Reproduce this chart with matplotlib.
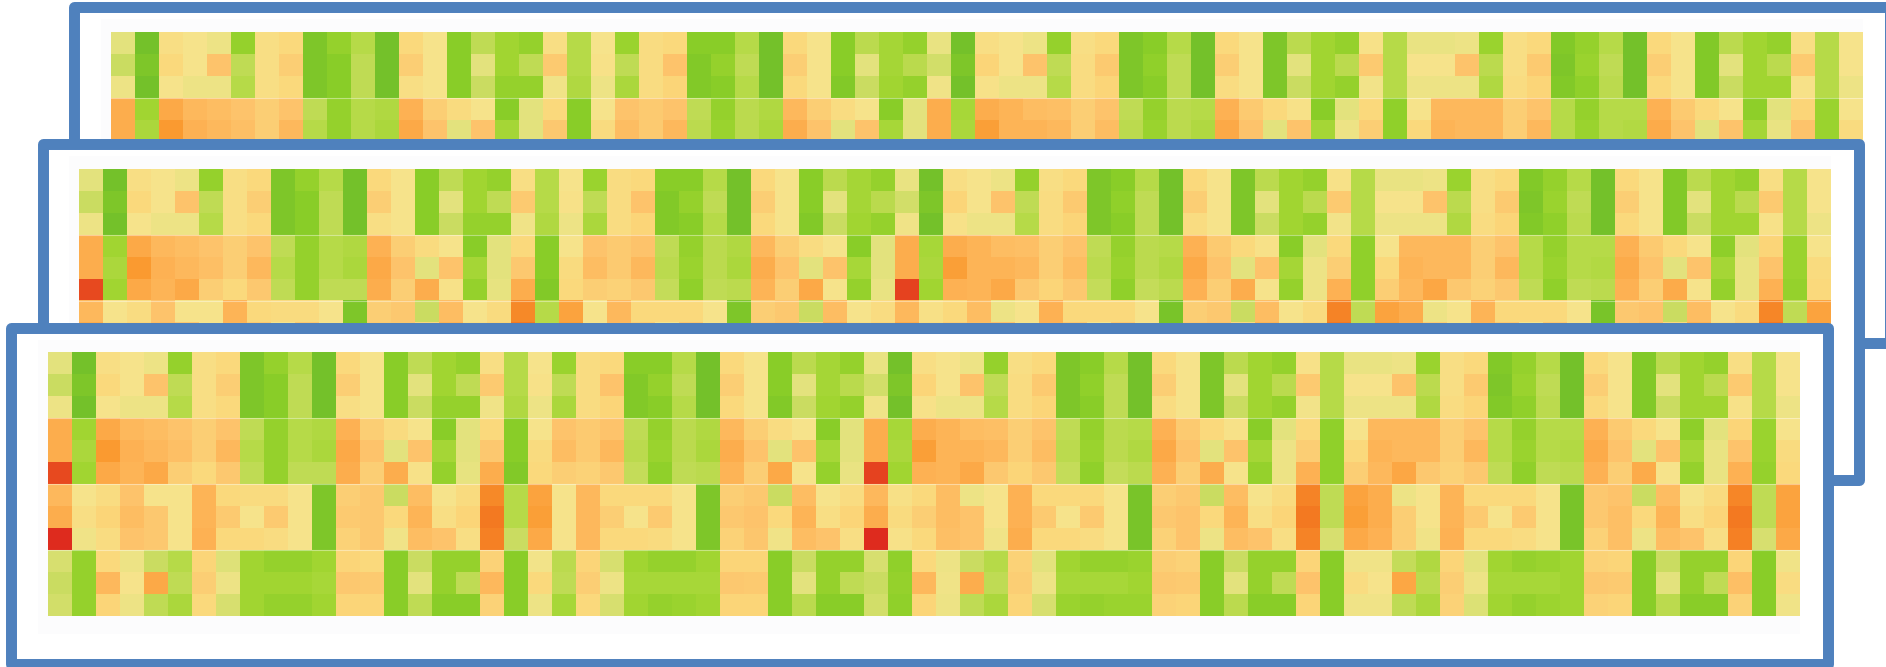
import numpy as np
import matplotlib
matplotlib.use("Agg")
import matplotlib.pyplot as plt
from matplotlib.colors import LinearSegmentedColormap
from matplotlib.patches import Rectangle

# the same 12 x 73 matrix sits in all three frames
# values are colour levels: 0 = red, 13 = dark green
row_01 = [8,13,6.5,7,7.5,11.5,6.5,6,12.5,11.5,10,13,6,7,12,9.5,11,11.5,
          6.5,10,7,11.3,6.3,6,12,12,10,13,6,7,12,9.7,10.8,11.5,7.7,13,6.5,
          7,7.5,11.5,6.5,6,12.5,12,10,13,6,7,12.5,9.7,11,11.5,6.8,10,7.7,7.7,7.5,
          11.3,6.5,6,12.3,11.5,10,13,6,7,12.3,9.7,11,11.5,6.5,10,7]
row_02 = [9,12.5,6,7,5,9.5,6.5,5.5,12.5,12,9.5,13,5.5,7,12,8,11,9.5,
          5.3,10,6.8,9.5,6.3,5,12.3,11.5,9.5,13,5.5,7,12,8,10.8,9.8,8.7,12.5,5.8,
          7,5,9.5,6.3,5.3,12.5,11.7,9.5,13,5.5,7,12.5,8,11,9.7,5.3,10,7,7,5,
          9.7,6.5,5.3,12.5,11.3,9.5,13,5.5,7,12.3,8,11,9.7,5.3,10,7]
row_03 = [7.5,13,7,7.5,7.5,10,6.5,6,12.5,12,9.5,13,6.5,7,12,9,11.5,11.5,
          7.3,10.3,7.5,10.5,6.3,5.8,12.3,12,10,13,6,7,12.3,9,11,11.5,7.3,13,6.8,
          7.5,7.5,10,6.3,5.8,12.5,12,9.5,13,6.3,7,12.5,9,11,11.5,7.2,10,7.5,7.5,7.5,
          10.3,6.3,5.8,12.3,11.7,9.7,13,6,7,12.3,9,11,11,6.8,10,7.5]
row_04 = [4,11,3.8,4.5,4.7,5,5.5,5,9.5,11.5,10,10.3,4.2,5.5,6.2,7,12,8,
          6,12,7,5,5.3,5,9.5,11.5,9.7,10.3,4.5,5.5,6.3,7,12,8,4,10.7,4,
          4.3,4.7,4.8,5.5,5,9.5,11.5,9.7,10,4.2,5.3,6,6.8,12,8,6,11.7,7,4.5,4.5,
          4.5,5.5,5,10,11.5,10,10,4.2,5.3,6,7,11.8,8,5.8,11.3,7]
row_05 = [4,10.5,3,4.2,4.5,4.8,5.5,4.5,10,11.5,10,10.5,3.8,5,8,5,10.8,8,
          5.2,12,6.2,4.7,5.3,4.5,9.7,11.3,9.7,10.5,4,5,8,5,10.7,8,4,10.5,3.3,
          4.3,4.3,4.5,5.5,4.7,9.7,11.3,9.7,10.3,3.8,5,8,5,10.8,7.5,5.5,11.7,6,4.3,4.5,
          4.5,5.5,4.5,10,11.3,10,10.2,3.9,5,8,5,10.8,7.7,5,11.3,6.2]
row_06 = [1,11,3.8,4.3,3.8,5.5,6,5.2,9.5,11.5,9.5,9.5,4,5.5,4,6.8,11.5,7.8,
          4,12.3,6,5.5,5.7,5.2,9.3,11.7,9.5,9.7,4.3,5.5,3.8,7,11.5,7.7,0.8,11,4.2,
          4.3,3.8,5.2,5.8,5.2,9.3,11.7,9.3,9.7,4.2,5.5,4,7,11.5,7.5,4.2,11.7,5.5,4.5,3.7,
          5.2,5.7,5.2,9.5,11.7,9.5,9.7,4.2,5.5,3.9,7,11.5,7.7,4.2,11.5,6]
row_07 = [4.5,7,6.3,5,7,7,4.3,6,6.2,6.2,7,12.5,5.5,5.2,9,4.7,7,6.2,
          2.5,10,3.5,7,4.5,6,6,6,7,12.5,5.5,5.2,9,4.7,7,6.3,4.5,6.7,6,
          4.7,7.5,7,4.2,6,6,6,7,12.7,5.5,5.2,9,4.7,7,6.2,2.3,9.5,3.5,4,7.5,
          7,4.3,6,6,6,7,12.7,5.2,5,9,4.7,7,6.2,2.4,9.5,3.5]
row_08 = [4,6.5,5.8,4.7,5.2,7,4.3,5.3,7,5.3,7,12.5,5.3,5.2,6,4.3,6.5,5.8,
          2,10,3.3,7,4.5,5.5,7,5.3,7,12.5,5.2,5,6,4.3,6.5,5.8,4,6.2,5.5,
          4.7,5,7,4.2,5.3,7,5.3,7,12.7,5.2,5,6,4.3,6.5,5.8,2,9.5,3.3,4,5.5,
          7,4.3,5.3,7,5.3,7,12.7,5.2,4.8,6,4.3,6.5,5.8,2,9.5,3.5]
row_09 = [0,7.3,6.3,5,5.2,7,4.2,6,6,6.3,7,12.5,5.7,5.2,7.3,4.7,5,6.5,
          2.2,9,3.8,7,4.5,6,6,6.2,7,12.5,5.7,5.1,7.3,4.7,5,6.5,0,6.8,6,
          4.8,5,7.3,4,6,6,6.3,7,12.7,5.7,5,7.5,4.7,5,6.5,2.3,8.5,3.8,4.2,5.5,
          7.3,4.2,6,6,6.3,7,12.7,5.7,4.8,7.5,4.7,5,6.5,2.2,8.5,3.8]
row_10 = [8.5,11.5,6,7.5,9,10,5.8,8.2,11,11.5,11.5,11,5.8,6,12,9,11.5,11.5,
          5.7,12,7.2,9.7,5.8,8.5,11,11.5,11.5,11,5.8,5.8,12,9,11.5,11.5,8.5,11.7,6,
          7.5,9,10,5.7,8,11,11.5,11.5,11.3,5.5,5.7,12,9,11.5,11.5,5.8,12,7.3,7.3,9.3,
          10.3,5.8,8,11,11.5,11.3,11,5.7,5.8,12,9,11.5,11.5,5.8,12,7.3]
row_11 = [9,11.5,4.5,7,3.8,9.5,5.5,7.5,11,11,11,10.7,5.2,5.3,12,8,11.5,9.5,
          4.5,12,6,9.5,5.5,7.5,10.7,10.7,10.7,10.7,5.2,5.3,12,8,11.5,9.5,9,11.5,4.5,
          7.3,4,9.5,5.5,7.5,10.7,10.7,10.7,11,5.2,5.3,12,8,11.5,9.5,5,12,6.3,7,3.7,
          9.7,5.5,7.5,10.7,10.7,10.7,11,5.2,5.3,12,8,11.5,9.5,4.8,12,6.3]
row_12 = [8.7,11.5,5.8,7.5,9.5,10.5,6,8.5,11,11.5,11.5,11,5.8,5.8,12,9.5,12,12,
          5.7,12,7.5,10.7,6,8.5,11,11.5,11.3,11,5.8,5.8,12,9.7,12,12,8.7,11.7,5.8,
          7.5,9.5,10.5,5.8,8.5,11.3,11.5,11.3,11.3,5.7,5.8,12,9.7,12,12,5.8,12,7.3,7.3,9.5,
          10.5,5.7,8.3,11,11.5,11.2,11,5.7,5.8,12,9.7,12,12,5.7,12,7.3]

level_colors = ["#DE2B1E", "#E84A20", "#F47A22", "#FA9A30", "#FDAE4E", "#FDC46C", "#FBD97C",
                "#F6E48C", "#E4E37E", "#CBDD62", "#B6DA48", "#A2D632", "#8ACE28", "#74C12A"]
cmap = LinearSegmentedColormap.from_list("levels", level_colors)

matrix = np.array([row_01, row_02, row_03, row_04, row_05, row_06,
                   row_07, row_08, row_09, row_10, row_11, row_12])

FRAME = "#4F81BD"
PANEL_W = 1752
PANEL_H = 263


def panel(ax, box, x0, y0, z):
    # white frame first, then the heatmap inside it. later panels cover earlier ones
    left, top, right, bottom = box
    ax.add_patch(Rectangle((left, top), right - left, bottom - top, facecolor="white",
                           edgecolor=FRAME, linewidth=7.9, joinstyle="round", zorder=z))
    ax.add_patch(Rectangle((x0 - 10, y0 - 13), PANEL_W + 10, PANEL_H + 31, facecolor="#FCFCFD",
                           edgecolor="none", zorder=z + 0.1))
    ax.imshow(matrix, cmap=cmap, vmin=0, vmax=13, aspect="auto", interpolation="nearest",
              extent=(x0, x0 + PANEL_W, y0 + PANEL_H, y0), zorder=z + 0.2)
    # faint light seam between the four row groups
    for k in [1, 2, 3]:
        ax.plot([x0, x0 + PANEL_W], [y0 + PANEL_H * k / 4] * 2, color="white", alpha=0.4,
                linewidth=0.8, zorder=z + 0.3)


fig = plt.figure(figsize=(18.86, 6.67), dpi=100)
ax = fig.add_axes([0, 0, 1, 1])

panel(ax, (74, 7, 1890, 343), 110.7, 32, 1)
panel(ax, (42.5, 144, 1859, 480), 79, 169, 2)
panel(ax, (11, 328, 1828, 664), 47.7, 352.7, 3)

ax.set_xlim(0, 1886)
ax.set_ylim(667, 0)
ax.axis("off")

fig.savefig("out.png", dpi=100)
